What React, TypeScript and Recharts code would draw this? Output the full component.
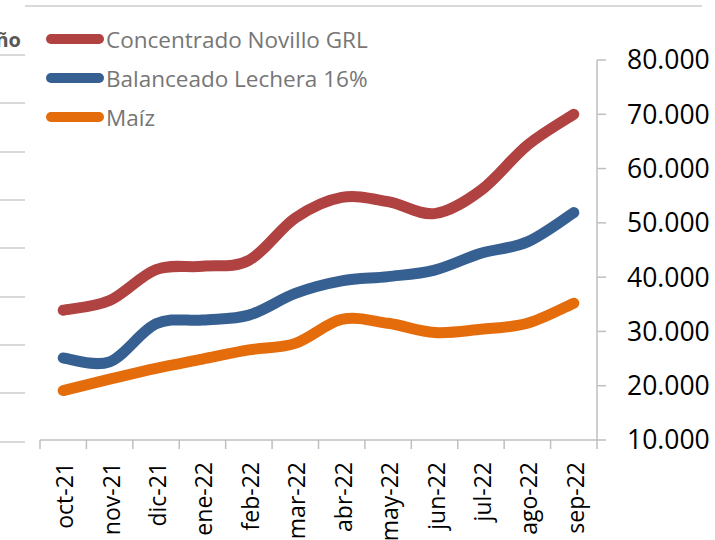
import { LineChart, Line, XAxis, YAxis } from 'recharts'

const months = ['oct-21', 'nov-21', 'dic-21', 'ene-22', 'feb-22', 'mar-22', 'abr-22', 'may-22', 'jun-22', 'jul-22', 'ago-22', 'sep-22']
const concentrado = [33900, 35700, 41400, 42000, 43100, 50900, 54700, 53900, 51700, 56000, 64300, 70000]
const balanceado = [25100, 24400, 31400, 32100, 33000, 37000, 39300, 40100, 41300, 44400, 46500, 51900]
const maiz = [19100, 21200, 23200, 24900, 26600, 27800, 32200, 31500, 29800, 30400, 31500, 35200]
const yTicks = [10000, 20000, 30000, 40000, 50000, 60000, 70000, 80000]

const seriesNames = ['Concentrado Novillo GRL', 'Balanceado Lechera 16%', 'Maíz']
const seriesKeys = ['concentrado', 'balanceado', 'maiz']
const seriesColors = ['#B04241', '#366092', '#E46C0A']

const data = months.map((m, i) => ({
  month: m,
  concentrado: concentrado[i],
  balanceado: balanceado[i],
  maiz: maiz[i],
}))

const FONT = '"Open Sans", sans-serif'
// width of one month slot (plot is 557px wide)
const BAND = 557 / months.length

const fmt = (v: number) => v.toLocaleString('de-DE')

// Excel-style smoothed line (Catmull-Rom through the points)
function smoothCurve(context: any) {
  let pts: number[][] = []
  return {
    areaStart() {},
    areaEnd() {},
    lineStart() {
      pts = []
    },
    point(x: number, y: number) {
      pts.push([+x, +y])
    },
    lineEnd() {
      if (!pts.length) return
      context.moveTo(pts[0][0], pts[0][1])
      for (let i = 0; i < pts.length - 1; i++) {
        const p0 = pts[i - 1] || pts[i]
        const p1 = pts[i]
        const p2 = pts[i + 1]
        const p3 = pts[i + 2] || p2
        context.bezierCurveTo(
          p1[0] + (p2[0] - p0[0]) / 6,
          p1[1] + (p2[1] - p0[1]) / 6,
          p2[0] - (p3[0] - p1[0]) / 6,
          p2[1] - (p3[1] - p1[1]) / 6,
          p2[0],
          p2[1]
        )
      }
    },
  }
}

function MonthTick(props: any) {
  const { x, y, payload, index } = props
  const last = index === months.length - 1
  return (
    <g>
      <line x1={x - BAND / 2} y1={y} x2={x - BAND / 2} y2={y + 9} stroke="#bfbfbf" strokeWidth={1.5} />
      {last && <line x1={x + BAND / 2} y1={y} x2={x + BAND / 2} y2={y + 9} stroke="#bfbfbf" strokeWidth={1.5} />}
      <text
        transform={`translate(${x + 1},${y + 22}) rotate(-90)`}
        textAnchor="end"
        dominantBaseline="central"
        fontSize={23}
        fontFamily={FONT}
        fill="#000"
      >
        {payload.value}
      </text>
    </g>
  )
}

export default function App() {
  return (
    <div style={{ position: 'absolute', left: 0, top: 0, width: 715, height: 540, overflow: 'hidden', background: '#fff', fontFamily: FONT }}>
      {/* bits of the neighbouring table on the left */}
      <div style={{ position: 'absolute', left: 25, top: 5, width: 677, height: 2, background: '#d9d9d9' }} />
      {[55, 103, 152, 200, 248, 297, 345, 393, 442].map((t) => (
        <div key={t} style={{ position: 'absolute', left: 0, top: t - 1, width: 25, height: 2, background: '#d9d9d9' }} />
      ))}
      <div style={{ position: 'absolute', right: 694, top: 26, fontSize: 20, fontWeight: 700, color: '#595959', whiteSpace: 'nowrap' }}>
        Año
      </div>

      <LineChart width={715} height={540} data={data} margin={{ top: 60, right: 0, left: 40, bottom: 0 }}>
        <XAxis
          dataKey="month"
          height={100}
          interval={0}
          padding={{ left: BAND / 2, right: BAND / 2 }}
          tickLine={false}
          tickSize={0}
          tickMargin={0}
          axisLine={{ stroke: '#bfbfbf', strokeWidth: 1.5 }}
          tick={<MonthTick />}
        />
        <YAxis
          orientation="right"
          width={118}
          domain={[10000, 80000]}
          ticks={yTicks}
          interval={0}
          tickSize={9}
          tickMargin={21}
          tickFormatter={fmt}
          axisLine={{ stroke: '#bfbfbf', strokeWidth: 1.5 }}
          tickLine={{ stroke: '#bfbfbf', strokeWidth: 1.5 }}
          tick={{ fill: '#000', fontSize: 26.5, fontFamily: FONT, textAnchor: 'start' }}
        />
        {seriesKeys.map((k, i) => (
          <Line
            key={k}
            type={smoothCurve as any}
            dataKey={k}
            name={seriesNames[i]}
            stroke={seriesColors[i]}
            strokeWidth={11}
            strokeLinecap="round"
            dot={false}
            activeDot={false}
            isAnimationActive={false}
          />
        ))}
      </LineChart>

      {/* legend */}
      {seriesNames.map((n, i) => (
        <div key={n} style={{ position: 'absolute', left: 46, top: [39, 78, 117][i] - 15, height: 30, display: 'flex', alignItems: 'center' }}>
          <div style={{ width: 58, height: 10, borderRadius: 5, background: seriesColors[i] }} />
          <span style={{ marginLeft: 2, fontSize: 22.5, color: '#767676', whiteSpace: 'nowrap' }}>{n}</span>
        </div>
      ))}
    </div>
  )
}
